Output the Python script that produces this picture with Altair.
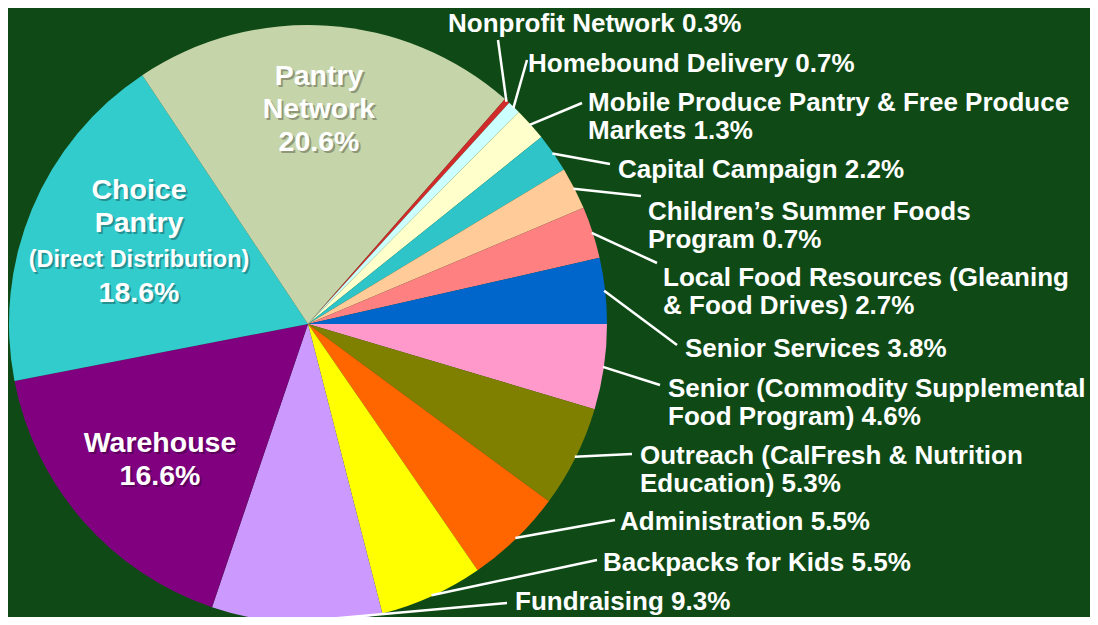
import math
import numpy as np
import pandas as pd
import altair as alt

# ---------------- data ----------------
categories = [
    "Senior (CSFP)", "Outreach", "Administration", "Backpacks for Kids",
    "Fundraising", "Warehouse", "Choice Pantry", "Pantry Network",
    "Nonprofit Network", "Homebound Delivery", "Mobile Produce",
    "Capital Campaign", "Children's Summer Foods", "Local Food Resources",
    "Senior Services",
]
# slice sizes as drawn (percent of the pie)
values = [4.6, 5.5, 5.3, 5.6, 9.2, 16.75, 18.7, 20.8, 0.3, 0.7, 1.8, 2.1, 2.3, 2.8, 3.55]
colors = [
    "#ff99cc", "#808000", "#ff6600", "#ffff00", "#cc99ff", "#800080",
    "#33cccc", "#c6d4a9", "#d02a2a", "#ccffff", "#ffffcc", "#2ec4c8",
    "#ffcc99", "#ff8080", "#0066cc",
]

outer_cats = [
    "Nonprofit Network", "Homebound Delivery", "Mobile Produce", "Capital Campaign",
    "Children's Summer Foods", "Local Food Resources", "Senior Services",
    "Senior (CSFP)", "Outreach", "Administration", "Backpacks for Kids", "Fundraising",
]
outer_text = [
    ["Nonprofit Network 0.3%"],
    ["Homebound Delivery 0.7%"],
    ["Mobile Produce Pantry & Free Produce", "Markets 1.3%"],
    ["Capital Campaign 2.2%"],
    ["Children\u2019s Summer Foods", "Program 0.7%"],
    ["Local Food Resources (Gleaning", "\u00a0& Food Drives) 2.7%"],
    ["Senior Services 3.8%"],
    ["Senior (Commodity Supplemental", "Food Program) 4.6%"],
    ["Outreach (CalFresh & Nutrition", "Education) 5.3%"],
    ["Administration 5.5%"],
    ["Backpacks for Kids 5.5%"],
    ["Fundraising 9.3%"],
]
inner_text_big = [["Pantry", "Network", "20.6%"], ["Choice", "Pantry"], ["18.6%"], ["Warehouse", "16.6%"]]
inner_text_small = [["(Direct Distribution)"]]

# ---------------- layout (pixels) ----------------
W, H = 1082, 609
CX, CY, R = 300, 316, 299
outer_label_xy = [
    (440, 24), (520, 64), (580, 103), (610, 170), (640, 212), (655, 278),
    (677, 349), (660, 389), (632, 456), (612, 522), (595, 563), (507, 602),
]
outer_line_end = [
    (490, 32), (519, 52), (574, 95), (602, 156), (633, 188), (649, 255),
    (669, 337), (652, 377), (624, 446), (607, 512), (589, 552), (499, 595),
]
inner_big_xy = [(311, 77), (131, 191), (131, 294), (152, 444)]
inner_small_xy = [(131, 259)]

# ---------------- tables ----------------
slices = pd.DataFrame({"category": categories, "value": values, "idx": range(len(categories))})

vals = np.array(values, dtype=float)
mid = (np.cumsum(vals) - vals / 2) / vals.sum() * 2 * math.pi
mid_by_cat = dict(zip(categories, mid))

lines = pd.DataFrame({
    "x": [CX + (R - 1) * math.cos(mid_by_cat[c]) for c in outer_cats],
    "y": [CY + (R - 1) * math.sin(mid_by_cat[c]) for c in outer_cats],
    "x2": [p[0] for p in outer_line_end],
    "y2": [p[1] for p in outer_line_end],
})
outer_df = pd.DataFrame({
    "x": [p[0] for p in outer_label_xy],
    "y": [p[1] for p in outer_label_xy],
    "text": outer_text,
})
inner_big_df = pd.DataFrame({
    "x": [p[0] for p in inner_big_xy],
    "y": [p[1] for p in inner_big_xy],
    "text": inner_text_big,
})
inner_small_df = pd.DataFrame({
    "x": [p[0] for p in inner_small_xy],
    "y": [p[1] for p in inner_small_xy],
    "text": inner_text_small,
})

FONT = "Liberation Sans"

def px(field):
    return alt.X(field + ":Q", scale=None, axis=None)

def py(field):
    return alt.Y(field + ":Q", scale=None, axis=None)

pie = alt.Chart(slices).mark_arc(outerRadius=R).encode(
    theta=alt.Theta("value:Q", stack=True,
                    scale=alt.Scale(range=[math.pi / 2, math.pi / 2 + 2 * math.pi])),
    color=alt.Color("category:N", scale=alt.Scale(domain=categories, range=colors), legend=None),
    order=alt.Order("idx:Q", sort="ascending"),
    x=alt.value(CX),
    y=alt.value(CY),
)

leaders = alt.Chart(lines).mark_rule(color="white", strokeWidth=2.5).encode(
    x=px("x"), y=py("y"), x2="x2:Q", y2="y2:Q"
)

outer_labels = alt.Chart(outer_df).mark_text(
    font=FONT, fontWeight="bold", fontSize=26, color="white",
    align="left", baseline="alphabetic", lineHeight=27.5,
).encode(x=px("x"), y=py("y"), text="text")

def inner_layer(df, size, lh):
    shadow = alt.Chart(df).mark_text(
        font=FONT, fontWeight="bold", fontSize=size, color="black", opacity=0.28,
        align="center", baseline="alphabetic", lineHeight=lh, dx=2, dy=2,
    ).encode(x=px("x"), y=py("y"), text="text")
    front = alt.Chart(df).mark_text(
        font=FONT, fontWeight="bold", fontSize=size, color="white",
        align="center", baseline="alphabetic", lineHeight=lh,
    ).encode(x=px("x"), y=py("y"), text="text")
    return shadow + front

inner_big = inner_layer(inner_big_df, 28.5, 33)
inner_small = inner_layer(inner_small_df, 23.5, 26)

chart = alt.layer(pie, leaders, outer_labels, inner_big, inner_small).properties(
    width=W, height=H, padding=0,
    autosize=alt.AutoSizeParams(type="none"),
    background="#0f4a16",
).configure_view(stroke=None)

chart.save("out.html", embed_options={"renderer": "svg", "actions": False})
